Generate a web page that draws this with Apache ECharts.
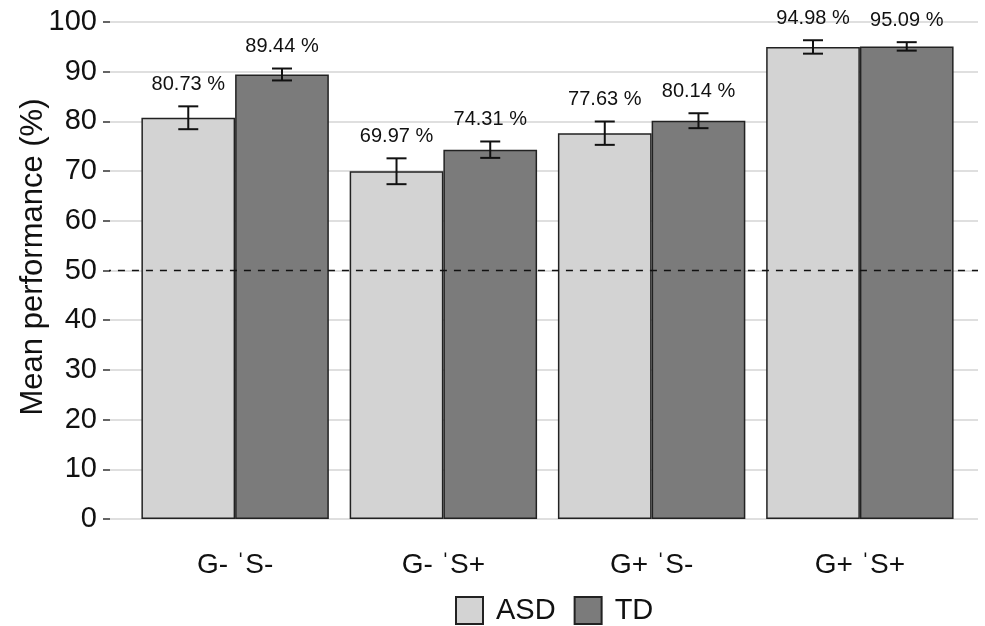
<!DOCTYPE html>
<html>
<head>
<meta charset="utf-8">
<script src="https://cdn.jsdelivr.net/npm/echarts@6/dist/echarts.min.js"></script>
<style>
  html, body { margin: 0; padding: 0; background: #fff; }
  #chart { width: 985px; height: 626px; }
</style>
</head>
<body>
<div id="chart"></div>
<script>
// data
const categories = ['G- ˈS-', 'G- ˈS+', 'G+ ˈS-', 'G+ ˈS+'];
const asdMean = [80.73, 69.97, 77.63, 94.98];
const tdMean = [89.44, 74.31, 80.14, 95.09];
const asdErr = [2.3, 2.6, 2.35, 1.35];
const tdErr = [1.2, 1.65, 1.5, 0.85];
const yTicks = [0, 10, 20, 30, 40, 50, 60, 70, 80, 90, 100];
const chanceLevel = 50;
const yTitle = 'Mean performance (%)';

const font = 'Liberation Sans, Arial, sans-serif';
const barFrac = 0.45;

// error bar + value label, drawn per group
function errorSeries(name, means, errs, side) {
  return {
    name: name + ' err',
    type: 'custom',
    xAxisIndex: 1,
    yAxisIndex: 1,
    z: 5,
    data: means.map((m, i) => [i, m, errs[i]]),
    renderItem: (params, api) => {
      const i = api.value(0), m = api.value(1), e = api.value(2);
      const band = api.size([1, 0])[0];
      const dx = side * band * barFrac / 2;
      const top = api.coord([i, m + e]);
      const bot = api.coord([i, m - e]);
      const x = top[0] + dx;
      const cap = 10;
      const st = { stroke: '#111', lineWidth: 2 };
      return {
        type: 'group',
        children: [
          { type: 'line', shape: { x1: x, y1: top[1], x2: x, y2: bot[1] }, style: st },
          { type: 'line', shape: { x1: x - cap, y1: top[1], x2: x + cap, y2: top[1] }, style: st },
          { type: 'line', shape: { x1: x - cap, y1: bot[1], x2: x + cap, y2: bot[1] }, style: st },
          { type: 'text', style: { text: m.toFixed(2) + ' %', x: x, y: top[1] - 22, align: 'center', verticalAlign: 'middle', font: '20px ' + font, fill: '#111' } }
        ]
      };
    }
  };
}

const chart = echarts.init(document.getElementById('chart'));
chart.setOption({
  animation: false,
  textStyle: { fontFamily: font },
  grid: [
    { left: 110, right: 7, top: 22, bottom: 107 },
    { left: 131, right: 21, top: 22, bottom: 107 }
  ],
  graphic: [{
    type: 'text', x: 33, y: 257, rotation: Math.PI / 2,
    style: { text: yTitle, align: 'center', verticalAlign: 'middle', font: '31px ' + font, fill: '#111' }
  }],
  legend: {
    data: ['ASD', 'TD'],
    left: 450,
    top: 591,
    icon: 'rect',
    itemWidth: 27,
    itemHeight: 27,
    itemGap: 18,
    textStyle: { fontSize: 29, color: '#111', fontFamily: font, padding: [0, 0, 0, 8] }
  },
  xAxis: [
    { type: 'value', gridIndex: 0, min: 0, max: 1, show: false },
    {
      type: 'category', gridIndex: 1, data: categories,
      axisLine: { show: false }, axisTick: { show: false },
      axisLabel: { fontSize: 28, color: '#111', margin: 32, fontFamily: font }
    }
  ],
  yAxis: [
    {
      type: 'value', gridIndex: 0, min: 0, max: 100, interval: 10,
      axisLine: { show: false },
      axisTick: { show: true, length: 7, lineStyle: { color: '#333', width: 1.5 } },
      axisLabel: { fontSize: 29, color: '#111', margin: 13, fontFamily: font,
        formatter: v => yTicks.includes(v) ? String(v) : '' },
      splitLine: { show: true, lineStyle: { color: '#d4d4d4', width: 1.5 } }
    },
    { type: 'value', gridIndex: 1, min: 0, max: 100, show: false }
  ],
  series: [
    {
      name: 'ASD', type: 'bar', xAxisIndex: 1, yAxisIndex: 1,
      data: asdMean, barWidth: (barFrac * 100) + '%', barGap: '0%',
      itemStyle: { color: '#d3d3d3', borderColor: '#222', borderWidth: 1.5 }
    },
    {
      name: 'TD', type: 'bar', xAxisIndex: 1, yAxisIndex: 1,
      data: tdMean, barWidth: (barFrac * 100) + '%', barGap: '0%',
      itemStyle: { color: '#7b7b7b', borderColor: '#222', borderWidth: 1.5 }
    },
    errorSeries('ASD', asdMean, asdErr, -1),
    errorSeries('TD', tdMean, tdErr, 1),
    {
      name: 'chance', type: 'line', xAxisIndex: 0, yAxisIndex: 0, z: 10,
      data: [[-0.007, chanceLevel], [1, chanceLevel]],
      symbol: 'none', silent: true,
      lineStyle: { color: '#111', type: [7, 7], width: 1.5 }
    }
  ]
});
</script>
</body>
</html>
